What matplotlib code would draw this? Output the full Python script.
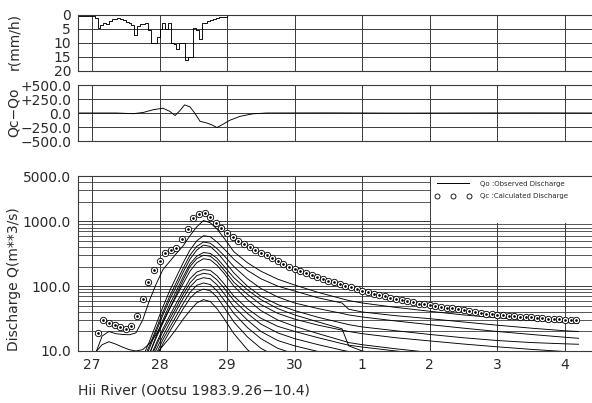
import numpy as np
import matplotlib
matplotlib.use("Agg")
import matplotlib.pyplot as plt
from matplotlib.lines import Line2D
from matplotlib.patches import Rectangle
from matplotlib.ticker import LogLocator, NullFormatter

# days counted from Sept, so Oct 1 = 31
day_ticks = [27, 28, 29, 30, 31, 32, 33, 34]
day_labels = ["27", "28", "29", "30", "1", "2", "3", "4"]

# hourly rainfall (mm/h), first bin starts 5 h before day 27.0
rain = [0.2, 0.3, 0.2, 0.3, 0.4, 0.5, 1.0, 4.8, 3.5, 2.8, 3.2, 2.0, 1.5, 1.4,
        1.2, 1.5, 1.8, 2.5, 2.8, 3.5, 7.0, 4.0, 3.3, 3.3, 3.0, 5.5, 10.0, 10.0,
        8.0, 5.0, 3.0, 5.0, 3.0, 10.0, 10.5, 12.0, 10.0, 10.0, 16.0, 15.0, 15.0,
        4.5, 5.5, 8.5, 3.0, 3.0, 2.3, 1.8, 1.5, 1.0, 0.8, 0.8, 0.6, 0.0, 0.0]
rain_t0 = 27 - 5 / 24

# Qc - Qo
diff_days = [26.79, 27.36, 27.61, 27.76, 27.91, 28.05, 28.15, 28.23, 28.30, 28.37,
             28.45, 28.52, 28.60, 28.69, 28.77, 28.85, 28.94, 29.04, 29.19, 29.38,
             29.58, 30.5, 31.5, 32.5, 33.5, 34.4]
diff_vals = [0, 0, -12, 10, 60, 85, 30, -45, 40, 145,
             110, 0, -150, -175, -210, -260, -200, -130, -60, -15,
             0, 2, -2, 0, 2, 0]

# calculated discharge, every 2 hours from 27.083
qc = [18.8, 30, 27.5, 25.5, 23.5, 21.5, 24, 35, 64, 117, 178, 247, 320, 360, 385,
      530, 760, 1140, 1320, 1350, 1150, 950, 780, 650, 570, 505, 450, 405, 365,
      330, 298, 270, 245, 222, 200, 182, 170, 159, 149, 139, 130, 122, 115, 108,
      102, 96, 90, 85, 80.5, 76.5, 73, 69.5, 66, 63, 60.5, 58, 56, 54, 52.5, 51,
      49.5, 48, 46.5, 45.3, 44, 43, 41.5, 40, 38.8, 37.8, 37, 36.2, 35.6, 35,
      34.4, 33.8, 33.3, 32.9, 32.5, 32.1, 31.7, 31.3, 30.9, 30.5, 30.1, 29.7]
qc_days = 27 + (np.arange(len(qc)) + 1) / 12

# discharge lines, shared time grid
line_days = [26.95, 27.05, 27.15, 27.25, 27.35, 27.45, 27.55, 27.65, 27.75, 27.85,
             27.95, 28.05, 28.15, 28.25, 28.35, 28.45, 28.55, 28.65, 28.75, 28.85,
             28.95, 29.1, 29.3, 29.5, 29.75, 30.0, 30.35, 30.7, 30.8, 31.0,
             31.5, 32.0, 32.5, 33.0, 33.5, 34.0, 34.2]
q_1 = [6, 9, 17, 20, 18.5, 18, 17.8, 19, 30, 60, 108, 180, 240, 320, 420, 600, 820,
       1030, 950, 760, 560, 340, 230, 170, 128, 104, 80, 64, 60, 55, 47, 41, 36,
       32.5, 30, 27.5, 26.7]
q_2 = [2, 2.5, 3, 3.5, 4, 4.5, 5, 6, 8, 14, 26, 48, 85, 140, 230, 360, 500, 600,
       580, 480, 380, 260, 175, 130, 100, 84, 66, 55, 44, 40, 35, 31.5, 28, 25,
       22.5, 20.5, 20]
q_3 = [1.5, 1.8, 2, 2.2, 2.5, 2.8, 3.2, 4, 7, 12, 22, 40, 70, 115, 190, 300, 410,
       480, 460, 380, 300, 200, 130, 92, 68, 55, 45, 38, 36, 33.5, 29, 25.5, 22.5,
       20, 18, 16.3, 15.7]
q_4 = [1, 1.2, 1.4, 1.6, 1.8, 2, 2.5, 3.5, 6, 11, 20, 36, 62, 100, 165, 260, 360,
       430, 410, 330, 250, 160, 100, 70, 52, 42, 33, 27, 25.5, 23.5, 20.5, 18, 16,
       14.5, 13.5, 12.9, 12.7]
q_5 = [1, 1.1, 1.2, 1.4, 1.6, 1.8, 2.2, 3, 5, 9, 17, 30, 52, 85, 140, 220, 290,
       330, 320, 270, 205, 135, 88, 62, 45, 36, 28, 22, 12, 10, 8, 6.5, 5.5, 5,
       4.5, 4, 4]
q_6 = [1, 1, 1.1, 1.2, 1.4, 1.6, 2, 2.8, 5, 9, 16, 27, 45, 75, 125, 200, 265, 300,
       290, 240, 180, 115, 75, 52, 38, 31, 25, 21, 20, 18.5, 16, 14.3, 12.8, 11.6,
       10.6, 9.8, 9.5]
q_7 = [7, 9.5, 12.5, 13.9, 12.8, 11.5, 10.5, 10, 10.5, 13, 18, 28, 45, 70, 110,
       170, 230, 265, 255, 210, 160, 100, 62, 42, 30, 24, 18.5, 14.5, 13.5, 12.5,
       10.8, 9.5, 8.5, 7.8, 7.2, 6.8, 6.6]
q_8 = [0.8, 0.8, 0.9, 1, 1.1, 1.3, 1.6, 2.2, 4, 7.5, 13, 22, 35, 55, 85, 130, 165,
       180, 175, 145, 110, 70, 45, 32, 24, 20, 16, 13, 12.3, 11.5, 10, 8.8, 7.9,
       7.2, 6.7, 6.3, 6.2]
q_9 = [0.7, 0.7, 0.8, 0.9, 1, 1.2, 1.5, 2, 3.5, 7, 12, 20, 31, 48, 75, 112, 145,
       158, 152, 125, 95, 60, 38, 26, 19, 15.5, 12.5, 10.3, 9.8, 9.2, 8, 7, 6.3,
       5.8, 5.4, 5, 5]
q_10 = [0.6, 0.6, 0.7, 0.8, 0.9, 1, 1.3, 1.8, 3, 6, 10.5, 17, 27, 42, 65, 97, 125,
        135, 130, 105, 78, 48, 30, 20, 14.5, 12, 9.8, 8.2, 7.8, 7.3, 6.4, 5.7,
        5.1, 4.7, 4.4, 4.1, 4]
q_11 = [0.5, 0.5, 0.6, 0.7, 0.8, 0.9, 1.1, 1.5, 2.5, 5, 9, 15, 23, 35, 54, 80, 103,
        112, 106, 85, 62, 38, 23, 15.5, 11, 9, 7.4, 6.2, 5.9, 5.5, 4.8, 4.3, 3.9,
        3.6, 3.3, 3.1, 3]
q_12 = [0.5, 0.5, 0.5, 0.6, 0.7, 0.8, 1, 1.4, 2.5, 4.5, 8, 13, 20, 30, 45, 65, 82,
        90, 85, 68, 48, 28, 16.5, 11, 8, 6.5, 5.3, 4.4, 4.2, 4, 3.5, 3.1, 2.8,
        2.6, 2.4, 2.2, 2.2]
q_13 = [0.5, 0.5, 0.5, 0.6, 0.7, 0.8, 1, 1.4, 4, 6.5, 9, 12, 16, 22, 31, 42, 55,
        62, 58, 45, 32, 18.5, 10.5, 7, 5, 4, 3.2, 2.6, 2.5, 2.3, 2, 1.8, 1.6,
        1.5, 1.4, 1.3, 1.3]
q_lines = [q_1, q_2, q_3, q_4, q_5, q_6, q_7, q_8, q_9, q_10, q_11, q_12, q_13]

plt.rcParams["font.family"] = "DejaVu Sans"
txt = "#2a2a2a"
grid_c = "#3a3a3a"

W, H = 592, 403
fig = plt.figure(figsize=(W / 100, H / 100), dpi=100)

def box(top, bottom):
    return [78 / W, 1 - bottom / H, 1 - 78 / W, (bottom - top) / H]

xmin, xmax = 26.793, 34.4

ax_r = fig.add_axes(box(15, 71))
ax_d = fig.add_axes(box(85, 141))
ax_q = fig.add_axes(box(176, 351))

for ax in (ax_r, ax_d, ax_q):
    ax.set_xlim(xmin, xmax)
    ax.set_xticks(day_ticks)
    ax.spines["right"].set_visible(False)
    for s in ("left", "top", "bottom"):
        ax.spines[s].set_linewidth(0.8)
        ax.spines[s].set_color(grid_c)
    ax.tick_params(which="both", length=0, pad=5, labelsize=10, labelcolor=txt)
    ax.set_axisbelow(True)
    ax.grid(True, which="major", color=grid_c, linewidth=0.7)

# rainfall
rain_t = rain_t0 + np.arange(len(rain)) / 24
ax_r.step(rain_t, rain, where="post", color="black", linewidth=0.65)
ax_r.set_ylim(20, 0)
ax_r.set_yticks([0, 5, 10, 15, 20])
ax_r.set_yticklabels(["0", "5", "10", "15", "20"])
ax_r.set_xticklabels([])

# Qc - Qo
ax_d.plot(diff_days, diff_vals, color="black", linewidth=0.65)
ax_d.set_ylim(-500, 500)
ax_d.set_yticks([-500, -250, 0, 250, 500])
ax_d.set_yticklabels(["\u2212500.0", "\u2212250.0", "0.0", "+250.0", "+500.0"])
ax_d.set_xticklabels([])

# discharge
ax_q.set_yscale("log")
ax_q.set_ylim(10, 5000)
ax_q.yaxis.set_minor_locator(LogLocator(base=10, subs=range(2, 10)))
ax_q.yaxis.set_minor_formatter(NullFormatter())
ax_q.set_yticks([10, 100, 1000, 5000])
ax_q.set_yticklabels(["10.0", "100.0", "1000.0", "5000.0"])
ax_q.set_xticklabels(day_labels)
ax_q.grid(True, which="minor", color=grid_c, linewidth=0.6)

for q in q_lines:
    ax_q.plot(line_days, q, color="black", linewidth=0.65, zorder=3)

ax_q.plot(qc_days, qc, linestyle="none", marker="o", markersize=4.6,
          markerfacecolor="white", markeredgecolor="black",
          markeredgewidth=0.6, zorder=4)
ax_q.plot(qc_days, qc, linestyle="none", marker="o", markersize=0.9,
          color="black", zorder=5)

# legend area blanks out the grid
ax_q.add_patch(Rectangle((32, 950), 3, 5000, facecolor="white",
                         edgecolor="none", zorder=1))
ax_q.axvline(32, color=grid_c, linewidth=0.7, zorder=1.2)

h_line = Line2D([], [], color="black", linewidth=0.7)
h_circ = Line2D([], [], linestyle="none", marker="o", markersize=3.6,
                markerfacecolor="white", markeredgecolor="black",
                markeredgewidth=0.6)
leg = ax_q.legend([h_line, h_circ],
                  ["Qo :Observed Discharge", "Qc :Calculated Discharge"],
                  loc="upper left", bbox_to_anchor=(0.685, 1.0), frameon=False,
                  fontsize=5, handlelength=5.2, handletextpad=1.3,
                  numpoints=3, labelspacing=0.9, borderaxespad=0.3)
for t in leg.get_texts():
    t.set_color(txt)

# axis labels
fig.text(14 / W, 1 - 42 / H, "r(mm/h)", rotation=90, ha="center", va="center",
         fontsize=10, color=txt)
fig.text(14 / W, 1 - 112 / H, "Qc\u2212Qo", rotation=90, ha="center",
         va="center", fontsize=10, color=txt)
fig.text(14 / W, 1 - 279 / H, "Discharge Q(m**3/s)", rotation=90, ha="center",
         va="center", fontsize=10, color=txt)
fig.text(78 / W, 1 - 390 / H, "Hii River (Ootsu 1983.9.26\u221210.4)",
         ha="left", va="center", fontsize=10, color=txt)

fig.savefig("out.png", dpi=100)
